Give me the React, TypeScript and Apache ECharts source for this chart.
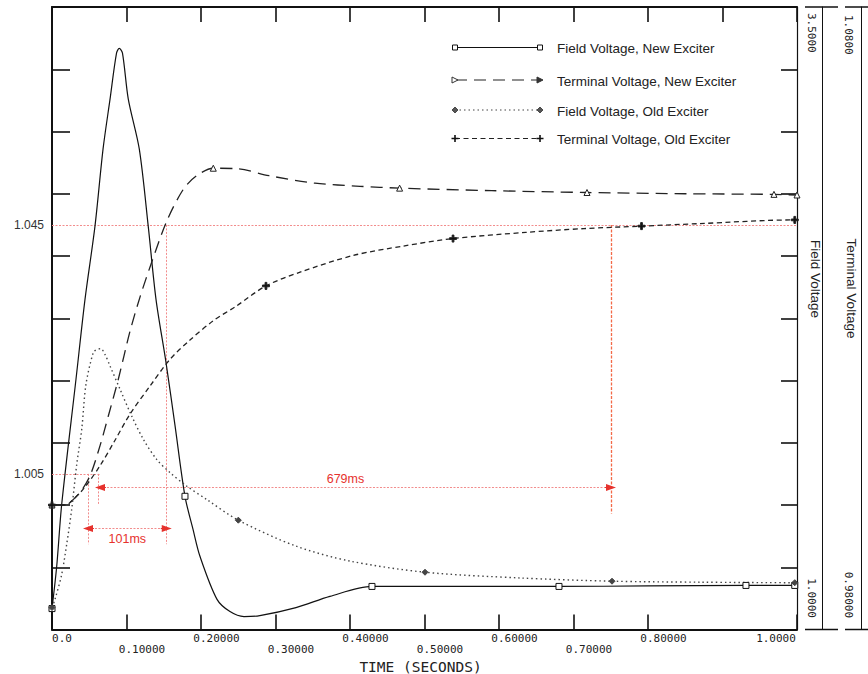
import React, { useEffect, useRef } from 'react';
import * as echarts from 'echarts';

// ---------- data ----------
const seriesNames = [
  'Field Voltage, New Exciter',
  'Terminal Voltage, New Exciter',
  'Field Voltage, Old Exciter',
  'Terminal Voltage, Old Exciter',
];

const xTickLabels = ['0.0', '0.10000', '0.20000', '0.30000', '0.40000', '0.50000', '0.60000', '0.70000', '0.80000', '0.90000', '1.0000'];
const fieldTickLabels = ['1.0000', '3.5000'];
const terminalTickLabels = ['0.98000', '1.0800'];
const axisTitles = ['Field Voltage', 'Terminal Voltage'];
const xTitle = 'TIME (SECONDS)';

// Field Voltage, New Exciter (field scale)
const fieldNewT = [0, 0.0063, 0.013, 0.0322, 0.0443, 0.0577, 0.0685, 0.0779, 0.0866, 0.0903, 0.0946, 0.1024, 0.1172, 0.1293, 0.1396, 0.153, 0.1651, 0.1785, 0.1893, 0.1987, 0.2215, 0.2389, 0.2577, 0.279, 0.3275, 0.373, 0.4295, 0.55, 0.6805, 0.8, 0.9315, 0.997, 1.0];
const fieldNewV = [1.084, 1.253, 1.502, 2.005, 2.326, 2.62, 2.929, 3.13, 3.315, 3.334, 3.315, 3.13, 2.929, 2.616, 2.326, 2.073, 1.82, 1.535, 1.402, 1.293, 1.121, 1.072, 1.052, 1.056, 1.088, 1.133, 1.173, 1.173, 1.173, 1.175, 1.177, 1.177, 1.177];
const fieldNewMarks = [0, 0.1785, 0.4295, 0.6805, 0.9315, 0.997];

// Terminal Voltage, New Exciter (terminal scale)
const termNewT = [0, 0.0188, 0.0242, 0.0376, 0.051, 0.0644, 0.0756, 0.089, 0.1047, 0.1181, 0.1338, 0.154, 0.1762, 0.1942, 0.2165, 0.2502, 0.2913, 0.353, 0.4134, 0.4666, 0.59, 0.7181, 0.85, 0.9691, 1.0];
const termNewV = [1.0, 1.0, 1.0004, 1.002, 1.0047, 1.0095, 1.0143, 1.0202, 1.0279, 1.0334, 1.039, 1.0456, 1.0507, 1.0529, 1.0541, 1.054, 1.0529, 1.0517, 1.0512, 1.0509, 1.0505, 1.0502, 1.05, 1.0499, 1.0498];
const termNewMarks = [0, 0.2165, 0.4666, 0.7181, 0.9691, 1.0];

// Field Voltage, Old Exciter (field scale)
const fieldOldT = [0, 0.004, 0.013, 0.0197, 0.0264, 0.0332, 0.0399, 0.0456, 0.0554, 0.0591, 0.0654, 0.0711, 0.0779, 0.0913, 0.107, 0.1226, 0.1405, 0.1584, 0.1808, 0.2077, 0.2501, 0.3275, 0.3996, 0.5007, 0.628, 0.7517, 0.87, 0.997, 1.0];
const fieldOldV = [1.088, 1.121, 1.221, 1.342, 1.482, 1.663, 1.804, 1.985, 2.113, 2.123, 2.128, 2.105, 2.058, 1.965, 1.857, 1.764, 1.683, 1.63, 1.576, 1.522, 1.439, 1.335, 1.275, 1.23, 1.207, 1.194, 1.19, 1.188, 1.188];
const fieldOldMarks = [0, 0.2501, 0.5007, 0.7517, 0.997];

// Terminal Voltage, Old Exciter (terminal scale)
const termOldT = [0, 0.0188, 0.0242, 0.043, 0.0644, 0.0846, 0.1047, 0.1315, 0.1584, 0.1852, 0.2165, 0.2479, 0.2872, 0.333, 0.4047, 0.4718, 0.5383, 0.636, 0.7141, 0.7913, 0.8685, 0.997, 1.0];
const termOldV = [1.0, 1.0, 1.0004, 1.0027, 1.0063, 1.0104, 1.0146, 1.0191, 1.0234, 1.0265, 1.0296, 1.032, 1.0352, 1.0374, 1.0401, 1.0416, 1.0428, 1.0438, 1.0444, 1.0448, 1.0452, 1.0458, 1.0458];
const termOldMarks = [0, 0.2872, 0.5383, 0.7913, 0.997];

// annotations (terminal scale)
const refLevels = [1.045, 1.005];
const refLabels = ['1.045', '1.005'];
const refLowEnd = 0.0644; // 1.005 guide ends here
const newWindow = [0.0483, 0.154]; // 101ms
const oldWindow = [0.0644, 0.7503]; // 679ms
const windowLabels = ['101ms', '679ms'];
const newArrowLevel = 0.99624;
const oldArrowLevel = 1.00283;
const guideBottom = 0.9937;
const oldStartGuide = [0.0617, 1.0];
const oldEndGuideBottom = 0.99865;

// ---------- helpers ----------
const PLUS = 'path://M3,0H5V3H8V5H5V8H3V5H0V3H3Z';
const MONO = 'DejaVu Sans Mono';
const SANS = 'Liberation Sans';
const PINK = '#f28c8c';
const RED = '#e6322d';

function buildData(ts: number[], vs: number[], marks: number[]) {
  const set = new Set(marks);
  return ts.map((t, i) => (set.has(t) ? { value: [t, vs[i]] } : { value: [t, vs[i]], symbol: 'none' }));
}

function arrowHeads(t0: number, t1: number, level: number) {
  const ls = { color: RED, width: 1, type: 'solid' as const };
  return [
    [
      { coord: [t0, level], symbol: 'triangle', symbolSize: [7, 10], lineStyle: ls },
      { coord: [t0 + 0.008, level], symbol: 'none' },
    ],
    [
      { coord: [t1 - 0.008, level], symbol: 'none', lineStyle: ls },
      { coord: [t1, level], symbol: 'triangle', symbolSize: [7, 10] },
    ],
  ];
}

export default function App() {
  const ref = useRef<HTMLDivElement>(null);

  useEffect(() => {
    if (!ref.current) return;
    const chart = echarts.init(ref.current, null, { renderer: 'svg' });

    const left = 52, right = 71, top = 7, bottom = 44.5;
    const W = 868, H = 674;
    const plotRight = W - right;
    const plotBottom = H - bottom;

    const seriesStyles = [
      { color: '#111', dash: 'solid', width: 1.2, symbol: 'rect', size: 6, fill: '#fff', yAxis: 2 },
      { color: '#222', dash: [12, 7], width: 1.3, symbol: 'triangle', size: 6, fill: '#fff', yAxis: 0 },
      { color: '#444', dash: [1.5, 3], width: 1.4, symbol: 'diamond', size: 6, fill: '#444', yAxis: 2 },
      { color: '#222', dash: [5, 3.5], width: 1.3, symbol: PLUS, size: 7, fill: '#111', yAxis: 0 },
    ];
    const dataSets = [
      buildData(fieldNewT, fieldNewV, fieldNewMarks),
      buildData(termNewT, termNewV, termNewMarks),
      buildData(fieldOldT, fieldOldV, fieldOldMarks),
      buildData(termOldT, termOldV, termOldMarks),
    ];

    const guide = { color: PINK, width: 1, type: [2, 1.5] };
    const markLineData: any[] = [
      {
        yAxis: refLevels[0],
        lineStyle: guide,
        label: { show: true, position: 'start', formatter: refLabels[0], color: '#333', fontFamily: SANS, fontSize: 12, distance: 8 },
      },
      [
        {
          coord: [0, refLevels[1]],
          lineStyle: guide,
          label: { show: true, position: 'start', formatter: refLabels[1], color: '#333', fontFamily: SANS, fontSize: 12, distance: 8 },
        },
        { coord: [refLowEnd, refLevels[1]] },
      ],
      [{ coord: [newWindow[0], refLevels[1]], lineStyle: guide }, { coord: [newWindow[0], guideBottom] }],
      [{ coord: [oldStartGuide[0], refLevels[1]], lineStyle: guide }, { coord: [oldStartGuide[0], oldStartGuide[1]] }],
      [{ coord: [newWindow[1], refLevels[0]], lineStyle: guide }, { coord: [newWindow[1], guideBottom] }],
      [
        { coord: [oldWindow[1], refLevels[0]], lineStyle: { color: '#f36a48', width: 1.3, type: [3, 1.5] } },
        { coord: [oldWindow[1], oldEndGuideBottom] },
      ],
      [
        {
          coord: [newWindow[0], newArrowLevel],
          lineStyle: guide,
          label: { show: true, position: 'insideMiddleBottom', formatter: windowLabels[0], color: RED, fontFamily: SANS, fontSize: 12.5, distance: 4 },
        },
        { coord: [newWindow[1], newArrowLevel] },
      ],
      [
        {
          coord: [oldWindow[0], oldArrowLevel],
          lineStyle: guide,
          label: { show: true, position: 'insideMiddleTop', formatter: windowLabels[1], color: RED, fontFamily: SANS, fontSize: 12.5, distance: 2, padding: [0, 20, 0, 0] },
        },
        { coord: [oldWindow[1], oldArrowLevel] },
      ],
      ...arrowHeads(newWindow[0], newWindow[1], newArrowLevel),
      ...arrowHeads(oldWindow[0], oldWindow[1], oldArrowLevel),
    ];

    const series: any[] = seriesNames.map((name, i) => {
      const s = seriesStyles[i];
      return {
        name,
        type: 'line',
        xAxisIndex: 0,
        yAxisIndex: s.yAxis,
        data: dataSets[i],
        smooth: 0.3,
        showSymbol: true,
        symbol: s.symbol,
        symbolSize: s.size,
        lineStyle: { color: s.color, width: s.width, type: s.dash },
        itemStyle: { color: s.fill, borderColor: s.color, borderWidth: 1 },
        emphasis: { disabled: true },
        silent: true,
        z: 3,
      };
    });
    series[3].markLine = {
      silent: true,
      symbol: 'none',
      precision: 5,
      animation: false,
      label: { show: false },
      emphasis: { disabled: true },
      data: markLineData,
      z: 2,
    };

    // legend (graphic)
    const legendY = [47.5, 80, 110, 138.5];
    const lx1 = 455, lx2 = 540, ltx = 557;
    const legendEls: any[] = [];
    const marker = (kind: number, cx: number, cy: number, right: boolean) => {
      if (kind === 0) {
        return { type: 'rect', shape: { x: cx - 2.5, y: cy - 2.5, width: 5, height: 5 }, style: { fill: '#fff', stroke: '#111', lineWidth: 1 } };
      }
      if (kind === 1) {
        return {
          type: 'polygon',
          shape: { points: [[cx - 3, cy - 3], [cx + 3, cy], [cx - 3, cy + 3]] },
          style: { fill: right ? '#333' : '#fff', stroke: '#333', lineWidth: 1 },
        };
      }
      if (kind === 2) {
        return {
          type: 'polygon',
          shape: { points: [[cx, cy - 3], [cx + 3, cy], [cx, cy + 3], [cx - 3, cy]] },
          style: { fill: '#555', stroke: '#333', lineWidth: 0.8 },
        };
      }
      return {
        type: 'polygon',
        shape: {
          points: [
            [cx - 0.8, cy - 3.5], [cx + 0.8, cy - 3.5], [cx + 0.8, cy - 0.8], [cx + 3.5, cy - 0.8], [cx + 3.5, cy + 0.8], [cx + 0.8, cy + 0.8],
            [cx + 0.8, cy + 3.5], [cx - 0.8, cy + 3.5], [cx - 0.8, cy + 0.8], [cx - 3.5, cy + 0.8], [cx - 3.5, cy - 0.8], [cx - 0.8, cy - 0.8],
          ],
        },
        style: { fill: '#111' },
      };
    };
    seriesNames.forEach((name, i) => {
      const s = seriesStyles[i];
      const y = legendY[i];
      legendEls.push({
        type: 'line',
        shape: { x1: lx1, y1: y, x2: lx2, y2: y },
        style: { stroke: s.color, lineWidth: 1.1, lineDash: s.dash === 'solid' ? null : s.dash },
      });
      legendEls.push(marker(i, lx1, y, false));
      legendEls.push(marker(i, lx2, y, true));
      legendEls.push({
        type: 'text',
        x: ltx,
        y: y + 1,
        style: { text: name, fontFamily: SANS, fontSize: 13.5, fill: '#222', align: 'left', verticalAlign: 'middle' },
      });
    });

    // right-hand axes decorations
    const fAxisX = plotRight + 25;
    const tAxisX = plotRight + 64;
    const rot = -Math.PI / 2;
    const rightEls: any[] = [
      { type: 'line', shape: { x1: 805, y1: top, x2: 838, y2: top }, style: { stroke: '#111', lineWidth: 1.5 } },
      { type: 'line', shape: { x1: 845, y1: top, x2: 868, y2: top }, style: { stroke: '#111', lineWidth: 1.5 } },
      { type: 'line', shape: { x1: 805, y1: plotBottom, x2: 838, y2: plotBottom }, style: { stroke: '#111', lineWidth: 1.5 } },
      { type: 'line', shape: { x1: 845, y1: plotBottom, x2: 868, y2: plotBottom }, style: { stroke: '#111', lineWidth: 1.5 } },
      { type: 'text', x: fAxisX - 10.5, y: top + 6, rotation: rot, style: { text: fieldTickLabels[1], fontFamily: MONO, fontSize: 11, fill: '#222', align: 'left', verticalAlign: 'middle' } },
      { type: 'text', x: fAxisX - 10.5, y: plotBottom - 11.5, rotation: rot, style: { text: fieldTickLabels[0], fontFamily: MONO, fontSize: 11, fill: '#222', align: 'right', verticalAlign: 'middle' } },
      { type: 'text', x: tAxisX - 12.5, y: top + 8, rotation: rot, style: { text: terminalTickLabels[1], fontFamily: MONO, fontSize: 11, fill: '#222', align: 'left', verticalAlign: 'middle' } },
      { type: 'text', x: tAxisX - 12.5, y: plotBottom - 11.5, rotation: rot, style: { text: terminalTickLabels[0], fontFamily: MONO, fontSize: 11, fill: '#222', align: 'right', verticalAlign: 'middle' } },
      { type: 'text', x: fAxisX - 7, y: 279, rotation: rot, style: { text: axisTitles[0], fontFamily: SANS, fontSize: 13.5, fill: '#222', align: 'center', verticalAlign: 'middle' } },
      { type: 'text', x: tAxisX - 10, y: 288.5, rotation: rot, style: { text: axisTitles[1], fontFamily: SANS, fontSize: 13.5, fill: '#222', align: 'center', verticalAlign: 'middle' } },
    ];

    const lastIdx = xTickLabels.length - 1;
    const xLabelFormatter = (value: number) => {
      const i = Math.round(value * 10);
      const s = xTickLabels[i];
      if (s === undefined) return '';
      const kind = i === 0 ? 'F' : i === lastIdx ? 'L' : 'M';
      const txt = `{${kind}|${s}}`;
      return i % 2 === 0 ? txt : `\n${txt}`;
    };
    const tok = { fontFamily: MONO, fontSize: 11, color: '#222', lineHeight: 11 };

    const option: any = {
      animation: false,
      backgroundColor: '#fff',
      textStyle: { fontFamily: SANS },
      grid: { left, right, top, bottom, containLabel: false, outerBoundsMode: 'none' },
      xAxis: [
        {
          type: 'value',
          position: 'bottom',
          min: 0,
          max: 1,
          interval: 0.1,
          axisLine: { show: true, onZero: false, lineStyle: { color: '#111', width: 2 } },
          axisTick: { show: true, inside: true, length: 15, lineStyle: { color: '#111', width: 1.6 } },
          splitLine: { show: false },
          axisLabel: {
            show: true,
            margin: 3.5,
            align: 'center',
            showMinLabel: true,
            showMaxLabel: true,
            hideOverlap: false,
            ...tok,
            formatter: xLabelFormatter,
            rich: {
              F: { ...tok, padding: [0, 0, 0, 20] },
              M: { ...tok, padding: [0, 0, 0, 31] },
              L: { ...tok, padding: [0, 42, 0, 0] },
            },
          },
          name: xTitle,
          nameLocation: 'middle',
          nameGap: 21,
          nameTextStyle: { fontFamily: MONO, fontSize: 14.5, lineHeight: 14, color: '#222', padding: [0, 8, 0, 0] },
        },
        {
          type: 'value',
          position: 'top',
          min: 0,
          max: 1,
          interval: 0.1,
          axisLine: { show: true, onZero: false, lineStyle: { color: '#111', width: 2 } },
          axisTick: { show: true, inside: true, length: 15, lineStyle: { color: '#111', width: 1.6 } },
          splitLine: { show: false },
          axisLabel: { show: false },
        },
      ],
      yAxis: [
        {
          type: 'value',
          position: 'left',
          min: 0.98,
          max: 1.08,
          interval: 0.01,
          axisLine: { show: true, onZero: false, lineStyle: { color: '#111', width: 2 } },
          axisTick: { show: true, inside: true, length: 18, lineStyle: { color: '#111', width: 1.6 } },
          splitLine: { show: false },
          axisLabel: { show: false },
        },
        {
          type: 'value',
          position: 'right',
          min: 0.98,
          max: 1.08,
          interval: 0.01,
          axisLine: { show: true, onZero: false, lineStyle: { color: '#111', width: 1.2 } },
          axisTick: { show: true, inside: true, length: 16, lineStyle: { color: '#111', width: 1.6 } },
          splitLine: { show: false },
          axisLabel: { show: false },
        },
        {
          type: 'value',
          position: 'right',
          offset: 25,
          min: 1,
          max: 3.5,
          axisLine: { show: true, onZero: false, lineStyle: { color: '#111', width: 1 } },
          axisTick: { show: false },
          splitLine: { show: false },
          axisLabel: { show: false },
        },
        {
          type: 'value',
          position: 'right',
          offset: 64,
          min: 0.98,
          max: 1.08,
          axisLine: { show: true, onZero: false, lineStyle: { color: '#111', width: 1 } },
          axisTick: { show: false },
          splitLine: { show: false },
          axisLabel: { show: false },
        },
      ],
      series,
      graphic: { elements: [...legendEls, ...rightEls] },
    };

    chart.setOption(option);
    return () => chart.dispose();
  }, []);

  return <div ref={ref} style={{ position: 'absolute', left: 0, top: 0, width: 868, height: 674, background: '#fff' }} />;
}
